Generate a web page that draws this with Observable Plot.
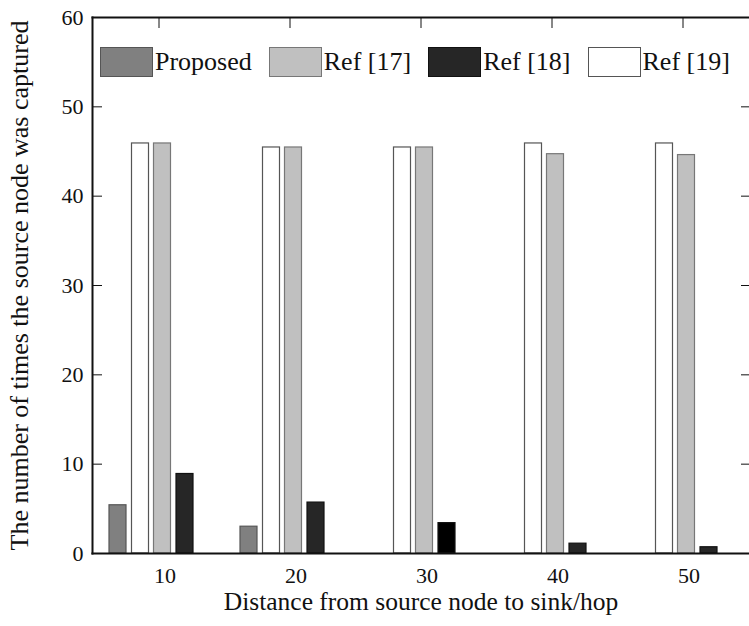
<!DOCTYPE html>
<html><head><meta charset="utf-8">
<script src="https://cdn.jsdelivr.net/npm/d3@7"></script>
<script src="https://cdn.jsdelivr.net/npm/@observablehq/plot@0.6"></script>
<style>
body{margin:0;background:#fff;}
#wrap{position:relative;width:749px;height:626px;font-family:"Liberation Serif","DejaVu Serif",serif;}
#legend{position:absolute;left:100px;top:47px;display:flex;align-items:center;font-size:26px;color:#111;line-height:30px;white-space:nowrap;width:650px;}
.item{display:flex;align-items:center;margin-right:17px;flex:none;}
.sw{width:53px;height:30px;border:1px solid #555;box-sizing:border-box;margin-right:2px;flex:none;}
</style></head><body><div id="wrap"><div id="legend"></div></div>
<script>
const distances = [10, 20, 30, 40, 50];
const seriesNames = ["Proposed", "Ref [17]", "Ref [18]", "Ref [19]"];
const proposed = [5.4, 3.0, 0, 0, 0];
const ref17 = [45.9, 45.45, 45.45, 44.7, 44.6];
const ref18 = [8.9, 5.7, 3.4, 1.1, 0.7];
const ref19 = [45.9, 45.45, 45.45, 45.9, 45.9];
const yTicks = [0, 10, 20, 30, 40, 50, 60];
const xLabel = "Distance from source node to sink/hop";
const yLabel = "The number of times the source node was captured";

const seriesValues = [proposed, ref17, ref18, ref19];
const styles = {
  "Proposed": {fill: "#808080", stroke: "#555", dx: -41},
  "Ref [17]": {fill: "#c0c0c0", stroke: "#777", dx: 3.5},
  "Ref [18]": {fill: "#262626", stroke: "#111", dx: 26},
  "Ref [19]": {fill: "#ffffff", stroke: "#555", dx: -18.5}
};
const rows = seriesNames.map((s, i) =>
  distances.map((d, j) => ({series: s, distance: d, value: seriesValues[i][j]})).filter(r => r.value > 0));

const drawOrder = ["Proposed", "Ref [19]", "Ref [17]", "Ref [18]"];
const barMarks = drawOrder.map(s => {
  const i = seriesNames.indexOf(s);
  const st = styles[s];
  return Plot.barY(rows[i], {
    x: "distance", y: "value",
    fill: s === "Ref [18]" ? (d => d.distance === 30 ? "#000" : st.fill) : st.fill,
    stroke: st.stroke, strokeWidth: 1.2,
    insetLeft: 57, insetRight: 57, dx: st.dx
  });
});

const chart = Plot.plot({
  width: 749, height: 626,
  marginLeft: 92, marginRight: 0, marginTop: 17, marginBottom: 73,
  style: {fontFamily: '"Liberation Serif","DejaVu Serif",serif', color: "#111", background: "#fff", overflow: "visible"},
  x: {type: "band", domain: distances, padding: 0},
  y: {domain: [0, 60]},
  marks: [
    ...barMarks,
    Plot.axisY({anchor: "left", ticks: yTicks, tickSize: -10, tickPadding: 19, fontSize: 22, label: null}),
    Plot.axisY({anchor: "left", ticks: [], label: yLabel, labelArrow: "none", labelAnchor: "center", labelOffset: 83, fontSize: 26}),
    Plot.axisY({anchor: "right", ticks: yTicks, tickSize: -9, tickFormat: () => "", label: null}),
    Plot.axisX({anchor: "top", tickSize: -10, tickFormat: () => "", label: null}),
    Plot.axisX({anchor: "bottom", tickSize: 0, tickPadding: 14, fontSize: 22, dx: 6, label: null}),
    Plot.axisX({anchor: "bottom", ticks: [], label: xLabel, labelArrow: "none", labelAnchor: "center", labelOffset: 56, fontSize: 25.5}),
    Plot.frame({anchor: "left", strokeWidth: 2}),
    Plot.frame({anchor: "top", strokeWidth: 2}),
    Plot.frame({anchor: "bottom", strokeWidth: 2.2})
  ]
});
document.getElementById("wrap").prepend(chart);

const legend = document.getElementById("legend");
seriesNames.forEach(s => {
  const it = document.createElement("div");
  it.className = "item";
  const sw = document.createElement("div");
  sw.className = "sw";
  sw.style.background = styles[s].fill;
  sw.style.borderColor = styles[s].stroke;
  const t = document.createElement("span");
  t.textContent = s;
  it.appendChild(sw); it.appendChild(t);
  legend.appendChild(it);
});
</script></body></html>
